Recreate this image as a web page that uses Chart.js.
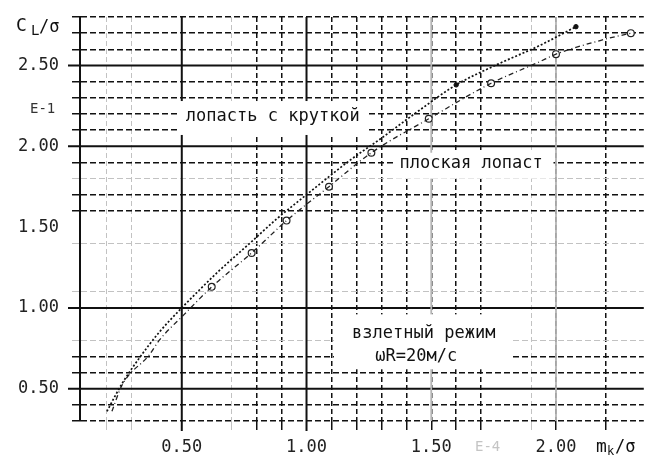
<!DOCTYPE html>
<html>
<head>
<meta charset="utf-8">
<script src="https://cdn.jsdelivr.net/npm/chart.js@4.4.1/dist/chart.umd.min.js"></script>
<style>
  html, body { margin: 0; padding: 0; background: #fff; }
</style>
</head>
<body>
<canvas id="chart" width="649" height="455"></canvas>
<script>
// C_L/σ = f(m_k/σ): лопасть с круткой vs плоская лопасть, взлетный режим
const twistX = [0.20, 0.26, 0.33, 0.41, 0.50, 0.65, 0.78, 0.88, 1.00, 1.18, 1.30, 1.45, 1.60, 1.77, 1.93, 2.08];
const twistY = [0.36, 0.53, 0.69, 0.85, 1.00, 1.23, 1.41, 1.55, 1.70, 1.92, 2.05, 2.22, 2.38, 2.51, 2.62, 2.74];
const twistMarkX = [1.60, 2.08];
const twistMarkY = [2.38, 2.74];

const flatX = [0.22, 0.26, 0.37, 0.41, 0.51, 0.62, 0.78, 0.92, 1.09, 1.26, 1.49, 1.74, 1.93, 2.00, 2.19, 2.30];
const flatY = [0.36, 0.52, 0.71, 0.80, 0.96, 1.13, 1.34, 1.54, 1.75, 1.96, 2.17, 2.39, 2.52, 2.57, 2.66, 2.70];
const flatMarkX = [0.62, 0.78, 0.92, 1.09, 1.26, 1.49, 1.74, 2.00, 2.30];
const flatMarkY = [1.13, 1.34, 1.54, 1.75, 1.96, 2.17, 2.39, 2.57, 2.70];

const xLabels = ['0.50', '1.00', '1.50', '2.00'];
const yLabels = ['0.50', '1.00', '1.50', '2.00', '2.50'];

// grid look of the scanned sheet, in tenths of a unit
const Y_SOLID = [5, 10, 20, 25];
const Y_NONE = [9, 12, 13, 15];
const Y_FAINT = [8, 11, 14, 18];
const X_SOLID = [5, 10];
const X_GRAY = [15, 20];
const X_NONE = [1, 4, 6, 18, 21, 23];
const X_FAINT = [2, 3, 7, 19];

const MONO = '"DejaVu Sans Mono", "Liberation Mono", monospace';
const INK = '#111';

const pts = (xs, ys) => xs.map((x, i) => ({ x, y: ys[i] }));
const tenth = v => Math.round(v * 10);

function gridKind(v, solid, none, faint) {
  const k = tenth(v);
  if (Math.abs(v * 10 - k) > 1e-6) return 'none';
  if (solid.includes(k) || none.includes(k)) return 'none';
  return faint.includes(k) ? 'faint' : 'dash';
}
const kindColor = k => k === 'faint' ? '#c2c2c2' : INK;
const kindWidth = k => k === 'none' ? 0 : (k === 'faint' ? 1 : 1.5);

const notes = [
  { box: [0.49, 1.24, 2.28, 2.07], lines: [{ text: 'лопасть с круткой', x: 0.865, y: 2.185 }] },
  { box: [1.35, 1.99, 1.96, 1.80], lines: [{ text: 'плоская лопаст', x: 1.66, y: 1.895 }] },
  { box: [1.11, 1.82, 0.96, 0.62], lines: [
      { text: 'взлетный режим', x: 1.47, y: 0.84 },
      { text: 'ωR=20м/с', x: 1.44, y: 0.70 }
  ] }
];

const sheet = {
  id: 'sheet',
  beforeDatasetsDraw(chart) {
    const { ctx, chartArea: a, scales: { x, y } } = chart;
    ctx.save();
    ctx.setLineDash([]);
    const stroke = (x1, y1, x2, y2, color, w) => {
      ctx.strokeStyle = color; ctx.lineWidth = w;
      ctx.beginPath(); ctx.moveTo(x1, y1); ctx.lineTo(x2, y2); ctx.stroke();
    };
    Y_SOLID.forEach(k => {
      const py = y.getPixelForValue(k / 10);
      stroke(a.left - 12, py, a.right, py, INK, 2);
    });
    X_SOLID.forEach(k => {
      const px = x.getPixelForValue(k / 10);
      stroke(px, a.top, px, a.bottom + 10, INK, 2);
    });
    X_GRAY.forEach(k => {
      const px = x.getPixelForValue(k / 10);
      stroke(px, a.top, px, a.bottom, '#b4b4b4', 1.8);
    });

    notes.forEach(n => {
      const [x0, x1, y0, y1] = n.box;
      const l = x.getPixelForValue(x0), r = x.getPixelForValue(x1);
      const t = y.getPixelForValue(y0), b = y.getPixelForValue(y1);
      ctx.fillStyle = '#fff';
      ctx.fillRect(l, t, r - l, b - t);
      ctx.fillStyle = INK;
      ctx.font = '17px ' + MONO;
      ctx.textAlign = 'center';
      ctx.textBaseline = 'middle';
      n.lines.forEach(s => ctx.fillText(s.text, x.getPixelForValue(s.x), y.getPixelForValue(s.y)));
    });
    ctx.restore();
  },
  afterDraw(chart) {
    const { ctx } = chart;
    ctx.save();
    ctx.fillStyle = INK;
    ctx.textBaseline = 'alphabetic';
    ctx.textAlign = 'left';
    // axis names
    ctx.font = '18px ' + MONO;
    ctx.fillText('C', 16, 31);
    ctx.font = '14px ' + MONO;
    ctx.fillText('L', 31, 35);
    ctx.font = '17px ' + MONO;
    ctx.fillText('/σ', 39, 32);

    ctx.font = '18px ' + MONO;
    ctx.fillText('m', 596, 452);
    ctx.font = '12px ' + MONO;
    ctx.fillText('k', 607, 455);
    ctx.font = '17px ' + MONO;
    ctx.fillText('/σ', 615, 452);

    // marks left on the scanned sheet
    ctx.font = '14px ' + MONO;
    ctx.fillStyle = '#333';
    ctx.fillText('E-1', 30, 113);
    ctx.fillStyle = '#c4c4c4';
    ctx.fillText('E-4', 475, 451);
    ctx.restore();
  }
};

new Chart(document.getElementById('chart'), {
  type: 'scatter',
  data: {
    datasets: [
      {
        label: 'лопасть с круткой',
        data: pts(twistX, twistY),
        showLine: true,
        borderColor: INK,
        borderWidth: 1.7,
        borderDash: [2, 2],
        cubicInterpolationMode: 'monotone',
        pointRadius: 0
      },
      {
        label: 'лопасть с круткой (точки)',
        data: pts(twistMarkX, twistMarkY),
        showLine: false,
        pointRadius: 2.2,
        pointBackgroundColor: INK,
        pointBorderColor: INK
      },
      {
        label: 'плоская лопаст',
        data: pts(flatX, flatY),
        showLine: true,
        borderColor: '#222',
        borderWidth: 1.3,
        borderDash: [5, 3, 1, 3],
        cubicInterpolationMode: 'monotone',
        pointRadius: 0
      },
      {
        label: 'плоская лопаст (точки)',
        data: pts(flatMarkX, flatMarkY),
        showLine: false,
        pointRadius: 3.4,
        pointBorderWidth: 1.2,
        pointBackgroundColor: '#fff',
        pointBorderColor: '#222'
      }
    ]
  },
  options: {
    responsive: false,
    animation: false,
    events: [],
    layout: { padding: { top: 17, right: 0, left: 0, bottom: 0 } },
    plugins: { legend: { display: false }, tooltip: { enabled: false } },
    scales: {
      x: {
        type: 'linear', min: 0.092, max: 2.352,
        afterFit: s => { s.height = 34; s.paddingLeft = 0; s.paddingRight = 0; },
        afterBuildTicks: s => { s.ticks = s.ticks.filter(t => Math.abs(t.value * 10 - tenth(t.value)) < 1e-6); },
        ticks: {
          stepSize: 0.1, autoSkip: false, maxRotation: 0, padding: 7,
          color: '#222', font: { family: MONO, size: 17 },
          callback: v => xLabels.includes(v.toFixed(2)) ? v.toFixed(2) : ''
        },
        grid: {
          tickLength: 9,
          color: c => kindColor(gridKind(c.tick ? c.tick.value : 0, X_SOLID, X_NONE, X_FAINT)),
          tickColor: c => kindColor(gridKind(c.tick ? c.tick.value : 0, X_SOLID, X_NONE, X_FAINT)),
          lineWidth: c => kindWidth(gridKind(c.tick ? c.tick.value : 0, X_SOLID, X_NONE, X_FAINT))
        },
        border: { display: false, dash: [5, 3] }
      },
      y: {
        type: 'linear', min: 0.3, max: 2.8,
        afterFit: s => { s.width = 80; s.paddingTop = 0; s.paddingBottom = 0; },
        afterBuildTicks: s => { s.ticks = s.ticks.filter(t => Math.abs(t.value * 10 - tenth(t.value)) < 1e-6); },
        ticks: {
          stepSize: 0.1, autoSkip: false, padding: 13,
          color: '#222', font: { family: MONO, size: 17 },
          callback: v => yLabels.includes(v.toFixed(2)) ? v.toFixed(2) : ''
        },
        grid: {
          tickLength: 8,
          color: c => kindColor(gridKind(c.tick ? c.tick.value : 0, Y_SOLID, Y_NONE, Y_FAINT)),
          tickColor: c => kindColor(gridKind(c.tick ? c.tick.value : 0, Y_SOLID, Y_NONE, Y_FAINT)),
          lineWidth: c => kindWidth(gridKind(c.tick ? c.tick.value : 0, Y_SOLID, Y_NONE, Y_FAINT))
        },
        border: { display: true, color: INK, width: 2, dash: [6, 3] }
      }
    }
  },
  plugins: [sheet]
});
</script>
</body>
</html>
